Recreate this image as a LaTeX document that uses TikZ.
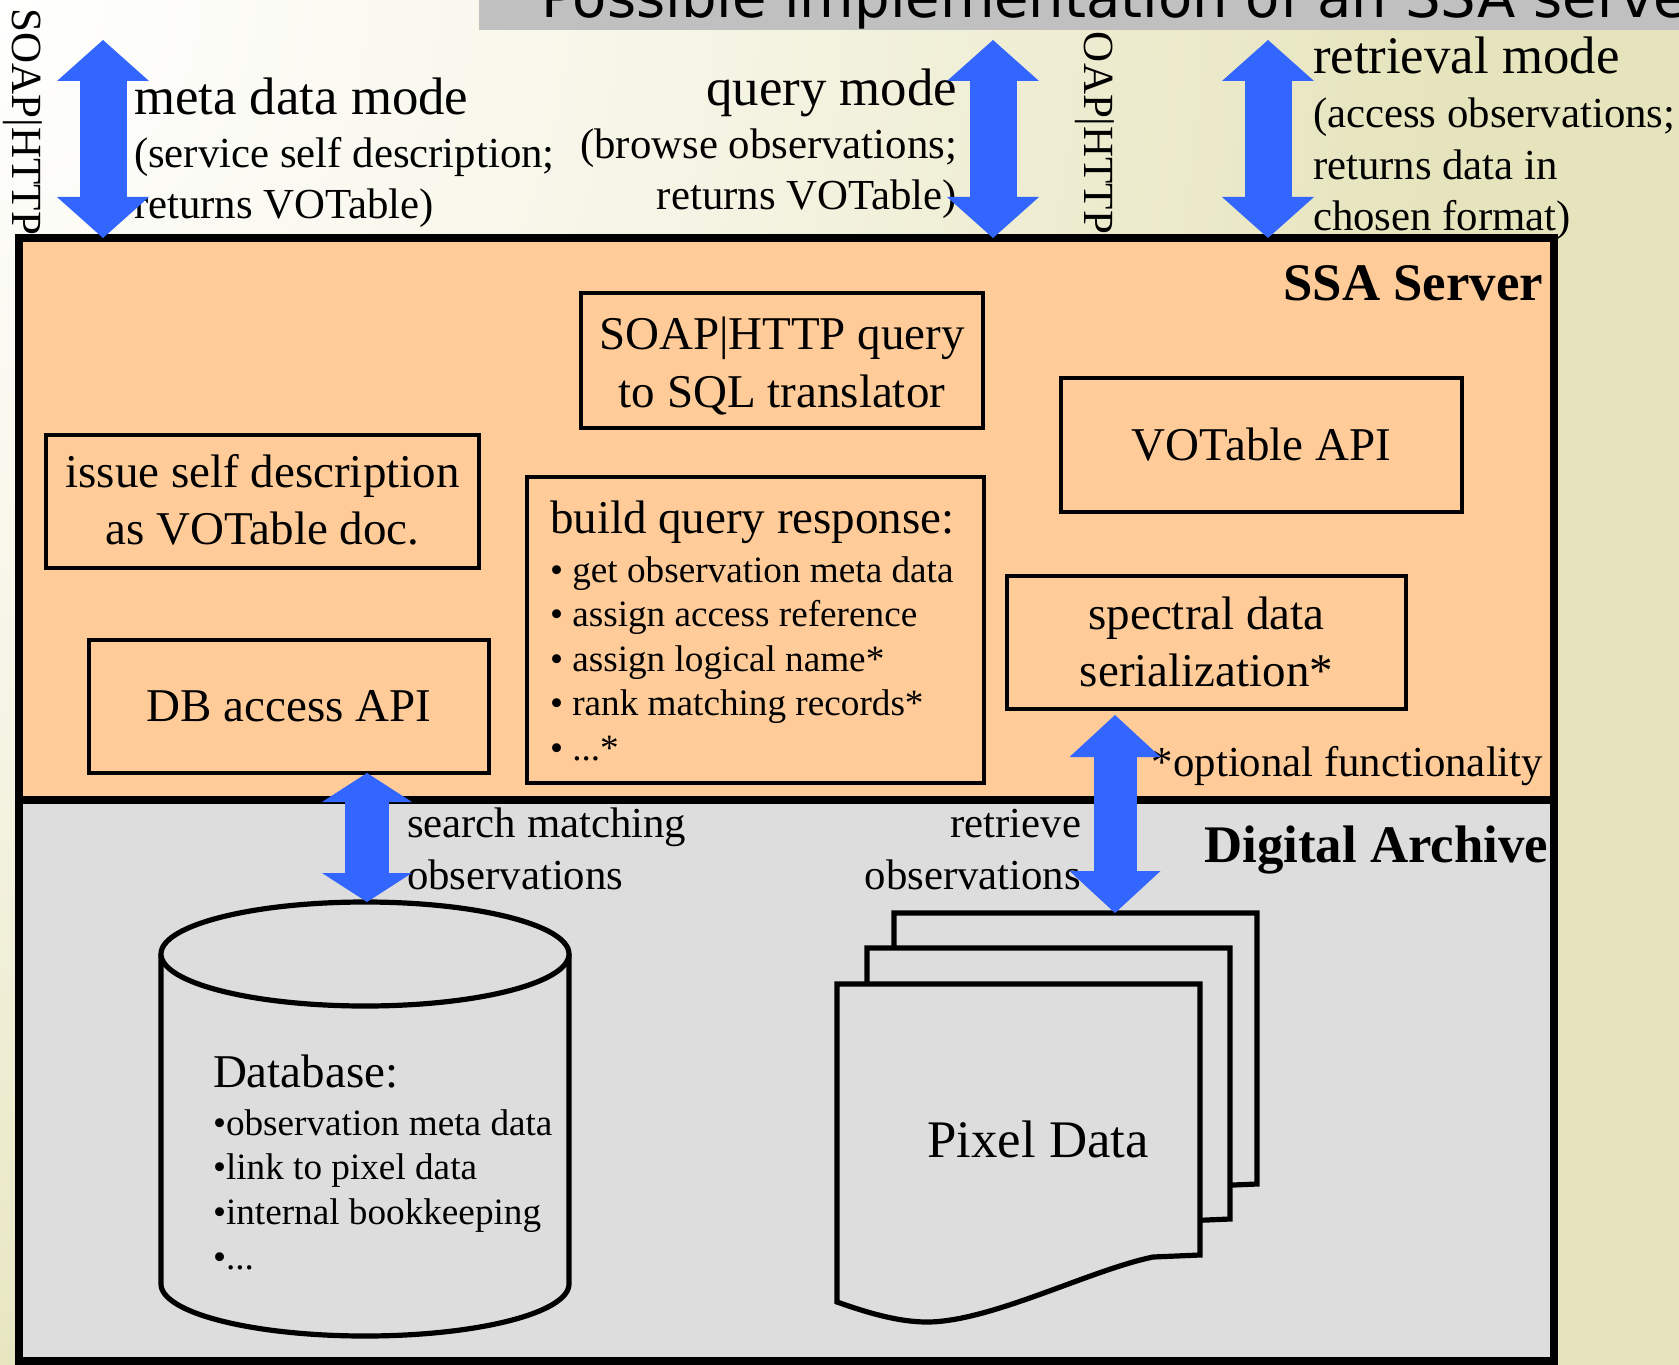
\documentclass[tikz,border=0pt]{standalone}
\usepackage{fontspec}
\setmainfont{Liberation Serif}
\newfontfamily\titlefont{DejaVu Sans}
\usetikzlibrary{calc, arrows.meta}

\definecolor{peach}{RGB}{255,204,153}
\definecolor{archivegray}{RGB}{221,221,221}
\definecolor{arrowblue}{RGB}{51,102,255}
\definecolor{bargray}{RGB}{192,192,192}
\definecolor{bgbeige}{RGB}{230,228,188}

\pgfdeclareradialshading{bgglow}{\pgfpoint{0bp}{0bp}}{%
  color(0bp)=(white); color(6.25bp)=(bgbeige!40!white);
  color(12.5bp)=(bgbeige); color(50bp)=(bgbeige)}

\newcommand{\bigsize}{\fontsize{26.4}{31}\selectfont}
\newcommand{\smallsize}{\fontsize{21.4}{25.75}\selectfont}
\newcommand{\boxsize}{\fontsize{23.5}{28.75}\selectfont}
\newcommand{\listsize}{\fontsize{18.6}{22.4}\selectfont}
\newcommand{\etcdots}{...}

\begin{document}
\begin{tikzpicture}[x=0.5pt, y=-0.5pt, inner sep=0pt, outer sep=0pt,
  bigtext/.style={font=\bigsize},
  smalltext/.style={font=\smallsize},
  boxtext/.style={font=\boxsize},
  listtext/.style={font=\listsize},
  vertext/.style={font=\fontsize{21.5}{26}\selectfont, rotate=-90, anchor=base west},
  box/.style={draw=black, line width=2.4pt, fill=peach, font=\boxsize},
  section/.style={draw=black, line width=4pt},
  page/.style={draw=black, line width=2.6pt, fill=archivegray, line join=miter},
  toparrow/.style={draw=arrowblue, line width=23.5pt,
    {Triangle[length=20.5pt, width=46pt, line width=0pt]}-{Triangle[length=20.5pt, width=46pt, line width=0pt]}},
  searcharrow/.style={draw=arrowblue, line width=22pt,
    {Triangle[length=14.5pt, width=45pt, line width=0pt]}-{Triangle[length=14.5pt, width=45pt, line width=0pt]}},
  fetcharrow/.style={draw=arrowblue, line width=21.5pt,
    {Triangle[length=21pt, width=45.5pt, line width=0pt]}-{Triangle[length=21pt, width=45.5pt, line width=0pt]}}]

% background
\useasboundingbox (0,0) rectangle (1679,1364);
\fill[bgbeige] (0,0) rectangle (1679,1364);
\begin{scope}
  \clip (0,0) rectangle (1679,1364);
  \shade[shading=bgglow] (-2900,-2900) rectangle (2900,2900);
\end{scope}

% title bar
\fill[bargray] (479,0) rectangle (1679,30);
\node[anchor=base west, font=\titlefont\fontsize{28}{34}\selectfont] (title) at (541,18) {Possible implementation of an SSA serve};

% server and archive
\node[section, fill=peach, minimum width=767.5pt, minimum height=281pt] (server) at (786.5,519) {};
\node[section, fill=archivegray, minimum width=767.5pt, minimum height=280.5pt] (archive) at (786.5,1080.5) {};
\node[bigtext, font=\bigsize\bfseries, anchor=base east] (ssalabel) at (1543,300) {SSA Server};
\node[bigtext, font=\bigsize\bfseries, anchor=base east] (archivelabel) at (1548,862) {Digital Archive};
\node[smalltext, anchor=base east] (optional) at (1543,776) {*optional functionality};

% modes
\node[bigtext, anchor=base west] (metamode) at (134,115) {meta data mode};
\node[smalltext, anchor=base west] (metainfo1) at (134,168) {(service self description;};
\node[smalltext, anchor=base west] (metainfo2) at (134,219) {returns VOTable)};
\node[bigtext, anchor=base east] (querymode) at (957,106) {query mode};
\node[smalltext, anchor=base east] (queryinfo1) at (957,159) {(browse observations;};
\node[smalltext, anchor=base east] (queryinfo2) at (957,210) {returns VOTable)};
\node[bigtext, anchor=base west] (retrmode) at (1313,74) {retrieval mode};
\node[smalltext, anchor=base west] (retrinfo1) at (1313,128) {(access observations;};
\node[smalltext, anchor=base west] (retrinfo2) at (1313,180) {returns data in};
\node[smalltext, anchor=base west] (retrinfo3) at (1313,230) {chosen format)};
\node[vertext] (soapleft) at (12,9) {SOAP|HTTP};
\node[vertext] (soapmid) at (1084,32) {OAP|HTTP};

% server parts
\node[box, minimum width=201pt, minimum height=67.5pt] (sqlbox) at (782,360.5) {};
\node[boxtext, anchor=base] (sql1) at ($(sqlbox.center)+(0,-11.5)$) {SOAP|HTTP query};
\node[boxtext, anchor=base] (sql2) at ($(sqlbox.center)+(0,46.5)$) {to SQL translator};
\node[box, minimum width=216.5pt, minimum height=66.5pt] (selfdesc) at (262.5,501.5) {};
\node[boxtext, anchor=base] (self1) at ($(selfdesc.center)+(0,-14.5)$) {issue self description};
\node[boxtext, anchor=base] (self2) at ($(selfdesc.center)+(0,42.5)$) {as VOTable doc.};
\node[box, minimum width=200pt, minimum height=66.5pt] (dbapi) at (289,706.5) {DB access API};
\node[box, minimum width=200.5pt, minimum height=67pt] (votapi) at (1261.5,445) {VOTable API};
\node[box, minimum width=199.5pt, minimum height=66.5pt] (spectral) at (1206.5,642.5) {};
\node[boxtext, anchor=base] (spec1) at ($(spectral.center)+(0,-13.5)$) {spectral data};
\node[boxtext, anchor=base] (spec2) at ($(spectral.center)+(0,43.5)$) {serialization*};
\node[box, minimum width=228.5pt, minimum height=153pt] (build) at (755.5,630) {};
\node[boxtext, anchor=base west] (buildhead) at (550,533) {build query response:};
\foreach \entry [count=\i from 0] in {• get observation meta data, • assign access reference,
    • assign logical name*, • rank matching records*, • \etcdots*}
  \node[listtext, anchor=base west] (build\i) at (550,{582+44.5*\i}) {\entry};

% archive parts
\node[smalltext, anchor=base west] (search1) at (407,837) {search matching};
\node[smalltext, anchor=base west] (search2) at (407,889) {observations};
\node[smalltext, anchor=base east] (fetch1) at (1081,837) {retrieve};
\node[smalltext, anchor=base east] (fetch2) at (1081,889) {observations};

\draw[page] (161,954) -- (161,1284) arc[start angle=180, end angle=0, x radius=204, y radius=52] -- (569,954);
\draw[page] (365,954) ellipse [x radius=204, y radius=52];
\coordinate (dbtop) at (367,902);
\node[boxtext, anchor=base west] (dbtitle) at (213,1087) {Database:};
\foreach \entry [count=\i from 0] in {•observation meta data, •link to pixel data,
    •internal bookkeeping, •\etcdots}
  \node[listtext, anchor=base west] (db\i) at (213,{1135+44.7*\i}) {\entry};

\foreach \dx/\dy in {57/-71, 30/-36, 0/0}
  \draw[page, shift={(\dx,\dy)}] (837,984) -- (1200,984) -- (1200,1255) -- (1153,1257)
    .. controls (1090,1270) and (990,1322) .. (927,1322)
    .. controls (895,1322) and (860,1310) .. (837,1302) -- cycle;
\coordinate (backpage) at (894,913);
\node[bigtext, anchor=base] (pixlabel) at (1038,1157) {Pixel Data};

% arrows
\coordinate (metatip) at (103,40);
\coordinate (querytip) at (993,40);
\coordinate (retrtip) at (1268,40);
\coordinate (fetchtip) at (1115,715);
\draw[toparrow] (metatip) -- (metatip |- server.north);
\draw[toparrow] (querytip) -- (querytip |- server.north);
\draw[toparrow] (retrtip) -- (retrtip |- server.north);
\draw[searcharrow] (dbtop |- dbapi.south) -- (dbtop);
\draw[fetcharrow] (fetchtip) -- (fetchtip |- backpage);
\end{tikzpicture}
\end{document}
